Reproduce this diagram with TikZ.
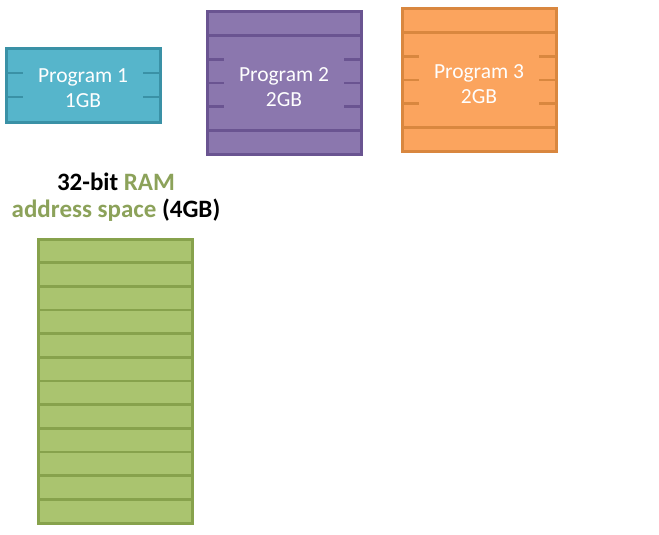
\documentclass[tikz,border=0pt]{standalone}
\usepackage{fontspec}
\setmainfont{Carlito}
\definecolor{tealfill}{HTML}{56B5CB}
\definecolor{tealdraw}{HTML}{3A91A6}
\definecolor{purpfill}{HTML}{8B77AE}
\definecolor{purpdraw}{HTML}{6A5491}
\definecolor{orfill}{HTML}{FBA45E}
\definecolor{ordraw}{HTML}{D9873F}
\definecolor{gfill}{HTML}{AAC46F}
\definecolor{gdraw}{HTML}{87A24C}
\definecolor{gtext}{HTML}{8CA25A}
\begin{document}
\begin{tikzpicture}[x=1pt,y=-1pt,
  module/.style={draw, line width=3pt, minimum width=154pt, inner sep=0pt, outer sep=0pt},
  boxtext/.style={font=\fontsize{21.5}{25}\selectfont, align=center, text=white!90!black!2},
  row/.style={line width=2.6pt}]
\useasboundingbox (0,0) rectangle (659,535);
% Program 1
\node[module, fill=tealfill, draw=tealdraw, minimum height=73pt] (p1) at (83,85.5) {};
\foreach \d in {24,48}{
  \draw[row, tealdraw] ([yshift=-\d pt]p1.north west) -- ++(17,0);
  \draw[row, tealdraw] ([yshift=-\d pt]p1.north east) -- ++(-17,0);
}
\node[boxtext] (t1) at (83,88) {Program 1\\1GB};
% Program 2
\node[module, fill=purpfill, draw=purpdraw, minimum height=142pt] (p2) at (284,83) {};
\foreach \d in {23.7,118.3}{
  \draw[row, purpdraw] ([yshift=-\d pt]p2.north west) -- ([yshift=-\d pt]p2.north east);
}
\foreach \d in {47.3,71,94.7}{
  \draw[row, purpdraw] ([yshift=-\d pt]p2.north west) -- ++(17,0);
  \draw[row, purpdraw] ([yshift=-\d pt]p2.north east) -- ++(-17,0);
}
\node[boxtext] (t2) at (284,87.5) {Program 2\\2GB};
% Program 3
\node[module, fill=orfill, draw=ordraw, minimum height=142pt] (p3) at (479,80) {};
\foreach \d in {23.7,118.3}{
  \draw[row, ordraw] ([yshift=-\d pt]p3.north west) -- ([yshift=-\d pt]p3.north east);
}
\foreach \d in {47.3,71,94.7}{
  \draw[row, ordraw] ([yshift=-\d pt]p3.north west) -- ++(17,0);
  \draw[row, ordraw] ([yshift=-\d pt]p3.north east) -- ++(-17,0);
}
\node[boxtext] (t3) at (479,84.5) {Program 3\\2GB};
% Label
\node[font=\bfseries\fontsize{25}{27}\selectfont, align=center] (lbl) at (116,197)
  {32-bit \textcolor{gtext}{RAM}\\\textcolor{gtext}{address space} (4GB)};
% RAM
\node[module, fill=gfill, draw=gdraw, minimum height=284pt] (ram) at (115,381) {};
\foreach \i in {1,...,11}{
  \draw[row, gdraw] ([yshift=-\i*23.667pt]ram.north west) -- ([yshift=-\i*23.667pt]ram.north east);
}
\end{tikzpicture}
\end{document}
